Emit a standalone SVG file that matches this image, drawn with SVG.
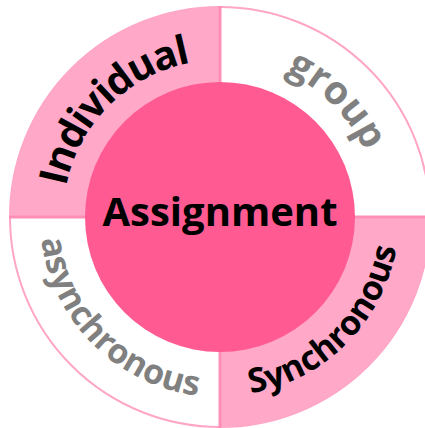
<svg xmlns="http://www.w3.org/2000/svg" width="425" height="428" viewBox="0 0 425 428">
  <style>
    .ring { fill: #ffffff; stroke: #ffa6c6; stroke-width: 2; }
    .sector { fill: #ffa8c8; }
    .core { fill: #ff5b92; }
    .divider { stroke: #ff8fb7; stroke-width: 3; fill: none; }
    .lbl { font-family: "Open Sans", "Liberation Sans", sans-serif; font-weight: 700; }
    .dark { fill: #000000; }
    .grey { fill: #808080; }
  </style>
  <defs>
    <!-- label baselines, centre (220,217) -->
    <path id="arcTL" d="M 63 217 A 157 157 0 0 1 220 60"/>
    <path id="arcTR" d="M 220 58 A 159 159 0 0 1 379 217"/>
    <path id="arcBL" d="M 40 217 A 180 180 0 0 0 220 397"/>
    <path id="arcBR" d="M 220 396 A 179 179 0 0 0 399 217"/>
  </defs>

  <circle class="ring" cx="220" cy="217" r="210"/>

  <g id="individual">
    <path class="sector" d="M 220 217 L 10 217 A 210 210 0 0 1 220 7 Z"/>
    <text class="lbl dark" font-size="40" letter-spacing="-1.5"><textPath href="#arcTL" startOffset="50%" text-anchor="middle">Individual</textPath></text>
  </g>

  <g id="group">
    <text class="lbl grey" font-size="39"><textPath href="#arcTR" startOffset="50%" text-anchor="middle">group</textPath></text>
  </g>

  <g id="synchronous">
    <path class="sector" d="M 220 217 L 430 217 A 210 210 0 0 1 220 427 Z"/>
    <text class="lbl dark" font-size="34"><textPath href="#arcBR" startOffset="50%" text-anchor="middle">Synchronous</textPath></text>
  </g>

  <g id="asynchronous">
    <text class="lbl grey" font-size="34"><textPath href="#arcBL" startOffset="50%" text-anchor="middle">asynchronous</textPath></text>
  </g>

  <g id="connectors">
    <line class="divider" x1="220" y1="6" x2="220" y2="90"/>
    <line class="divider" x1="220" y1="345" x2="220" y2="428"/>
    <line class="divider" x1="9" y1="217" x2="90" y2="217"/>
    <line class="divider" x1="350" y1="217" x2="425" y2="217"/>
  </g>

  <g id="assignment">
    <circle class="core" cx="220" cy="217" r="135"/>
    <text class="lbl dark" x="220" y="226" font-size="40" text-anchor="middle">Assignment</text>
  </g>
</svg>
